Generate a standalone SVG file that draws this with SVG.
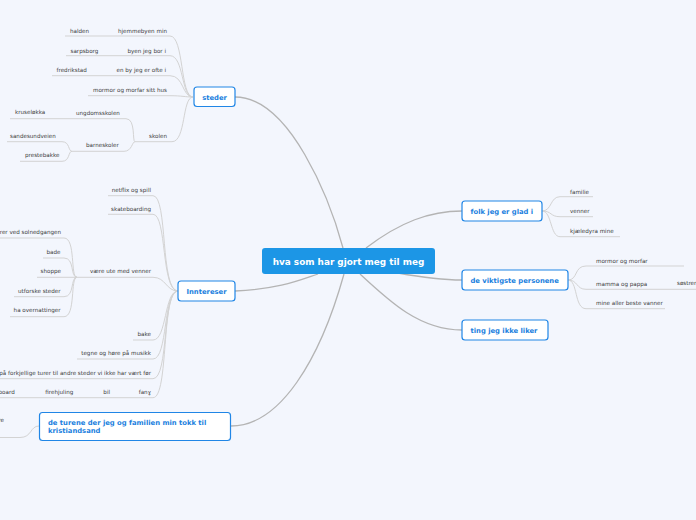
<svg xmlns="http://www.w3.org/2000/svg" width="696" height="520" viewBox="0 0 696 520">
<style>
.main{fill:none;stroke:#b4b4b4;stroke-width:1.3}
.sub{fill:none;stroke:#d3d3d3;stroke-width:1}
.leaf{font-family:"DejaVu Sans",Verdana,sans-serif;font-size:5.6px;fill:#3a3a3a}
.end{text-anchor:end}
.nb{fill:#fff;stroke:#2086e6;stroke-width:1.2}
.nt{font-family:"DejaVu Sans",Verdana,sans-serif;font-size:6.8px;font-weight:bold;fill:#1b7fde}
.ct{font-family:"DejaVu Sans",Verdana,sans-serif;font-size:8.9px;font-weight:bold;fill:#fff;text-anchor:middle}
</style>
<rect width="696" height="520" fill="#f3f6fd"/>
<g id="connectors">
<path class="main" d="M235,97 C290,97 330,200 343,248"/>
<path class="main" d="M366,248 C400,222 430,211 462,211"/>
<path class="main" d="M235,291 C280,289 300,280 318,274"/>
<path class="main" d="M398,273 C420,277 440,280 462,280"/>
<path class="main" d="M360,274 C390,302 420,330 462,330"/>
<path class="main" d="M344,274 C320,360 280,426 231,426"/>
<!-- steder -->
<path class="sub" d="M193,97 C180,97 184,36 170,36 H65"/>
<path class="sub" d="M193,97 C181,97 184,55.7 170,55.7 H66"/>
<path class="sub" d="M193,97 C182,97 184,75.7 170,75.7 H52"/>
<path class="sub" d="M193,97 C185,97 182,95.7 170,95.7 H88"/>
<path class="sub" d="M193,97 C182,97 186,141.7 172,141.7 H135"/>
<path class="sub" d="M135,141.7 C132,141.7 136,118.7 126,118.7 H10"/>
<path class="sub" d="M135,141.7 C132,141.7 132,151.3 124,151.3 H72"/>
<path class="sub" d="M72,151.3 C68,151.3 70,141.7 62,141.7 H7"/>
<path class="sub" d="M72,151.3 C68,151.3 70,161.3 62,161.3 H20"/>
<!-- inntereser -->
<path class="sub" d="M178,291 C160,291 168,195.7 153,195.7 H108"/>
<path class="sub" d="M178,291 C161,291 167,214.3 153,214.3 H108"/>
<path class="sub" d="M178,291 C166,291 166,277.3 153,277.3 H77"/>
<path class="sub" d="M178,291 C164,291 167,340 153,340 H133"/>
<path class="sub" d="M178,291 C163,291 168,359 153,359 H77"/>
<path class="sub" d="M178,291 C162,291 169,378.7 153,378.7 H0"/>
<path class="sub" d="M178,291 C161,291 169,397.7 153,397.7 H0"/>
<path class="sub" d="M77,277.3 C70,277.3 76,238 64,238 H0"/>
<path class="sub" d="M77,277.3 C70,277.3 75,258 64,258 H43"/>
<path class="sub" d="M77,277.3 H37"/>
<path class="sub" d="M77,277.3 C70,277.3 75,296.7 64,296.7 H14"/>
<path class="sub" d="M77,277.3 C70,277.3 76,316.7 64,316.7 H10"/>
<!-- de turene -->
<path class="sub" d="M39,426 C30,426 32,437.5 20,437.5 H0"/>
<!-- folk -->
<path class="sub" d="M542,211 C552,211 550,196.7 560,196.7 H593"/>
<path class="sub" d="M542,211 C552,211 550,216.7 560,216.7 H593"/>
<path class="sub" d="M542,211 C552,211 550,236.7 560,236.7 H620"/>
<!-- viktigste -->
<path class="sub" d="M568,280 C578,280 574,266 586,266 H684"/>
<path class="sub" d="M568,280 C578,280 576,289.3 586,289.3 H696"/>
<path class="sub" d="M568,280 C578,280 574,308.7 586,308.7 H665"/>
</g>
<g id="center">
<rect x="262" y="248" width="173" height="26" rx="3" fill="#1c96e6"/>
<text class="ct" x="348.5" y="264.5">hva som har gjort meg til meg</text>
</g>
<g id="steder">
<rect class="nb" x="194" y="87" width="41" height="19.5" rx="3"/>
<text class="nt" x="214.5" y="99.5" text-anchor="middle">steder</text>
</g>
<g id="inntereser">
<rect class="nb" x="178" y="281" width="57" height="20" rx="3"/>
<text class="nt" x="206.5" y="293.5" text-anchor="middle">Inntereser</text>
</g>
<g id="folk">
<rect class="nb" x="462" y="201" width="80" height="20" rx="3"/>
<text class="nt" x="470.5" y="213.5">folk jeg er glad i</text>
</g>
<g id="viktigste">
<rect class="nb" x="462" y="270" width="106" height="20" rx="3"/>
<text class="nt" x="470.5" y="282.5">de viktigste personene</text>
</g>
<g id="ting">
<rect class="nb" x="462" y="320" width="86" height="20" rx="3"/>
<text class="nt" x="470.5" y="332.5">ting jeg ikke liker</text>
</g>
<g id="turene">
<rect class="nb" x="39.5" y="412.5" width="191" height="28" rx="3"/>
<text class="nt" x="48" y="424.5">de turene der jeg og familien min tokk til</text>
<text class="nt" x="48" y="432.5">kristiandsand</text>
</g>
<g id="leaves">
<text class="leaf" x="70" y="33">halden</text>
<text class="leaf end" x="167" y="33">hjemmebyen min</text>
<text class="leaf" x="70.5" y="52.5">sarpsborg</text>
<text class="leaf end" x="166" y="52.5">byen jeg bor i</text>
<text class="leaf" x="56.5" y="72">fredrikstad</text>
<text class="leaf end" x="166" y="72">en by jeg er ofte i</text>
<text class="leaf end" x="167" y="91.5">mormor og morfar sitt hus</text>
<text class="leaf end" x="167" y="138">skolen</text>
<text class="leaf" x="15" y="113.5">kruseløkka</text>
<text class="leaf" x="76" y="115">ungdomsskolen</text>
<text class="leaf" x="86" y="147">barneskoler</text>
<text class="leaf" x="10" y="138">sandesundveien</text>
<text class="leaf" x="25" y="157">prestebakke</text>
<text class="leaf end" x="151" y="192">netflix og spill</text>
<text class="leaf end" x="151" y="211">skateboarding</text>
<text class="leaf end" x="151" y="272.5">være ute med venner</text>
<text class="leaf end" x="61" y="234">rer ved solnedgangen</text>
<text class="leaf end" x="60.5" y="253.5">bade</text>
<text class="leaf end" x="61" y="272.5">shoppe</text>
<text class="leaf end" x="60.5" y="292.5">utforske steder</text>
<text class="leaf end" x="60.5" y="312">ha overnattinger</text>
<text class="leaf end" x="151" y="336">bake</text>
<text class="leaf end" x="151" y="355">tegne og høre på musikk</text>
<text class="leaf end" x="151" y="375">på forkjellige turer til andre steder vi ikke har vært før</text>
<text class="leaf end" x="151" y="393.5">fanɣ</text>
<text class="leaf end" x="110" y="393.5">bil</text>
<text class="leaf end" x="73.3" y="393.5">firehjuling</text>
<text class="leaf end" x="14.7" y="393.5">board</text>
<text class="leaf end" x="4" y="422">re</text>
<text class="leaf" x="570" y="194">familie</text>
<text class="leaf" x="570" y="213.3">venner</text>
<text class="leaf" x="570" y="233">kjæledyra mine</text>
<text class="leaf" x="596" y="263">mormor og morfar</text>
<text class="leaf" x="596" y="286">mamma og pappa</text>
<text class="leaf" x="677" y="285">søstren</text>
<text class="leaf" x="596" y="305">mine aller beste vanner</text>
</g>
</svg>
